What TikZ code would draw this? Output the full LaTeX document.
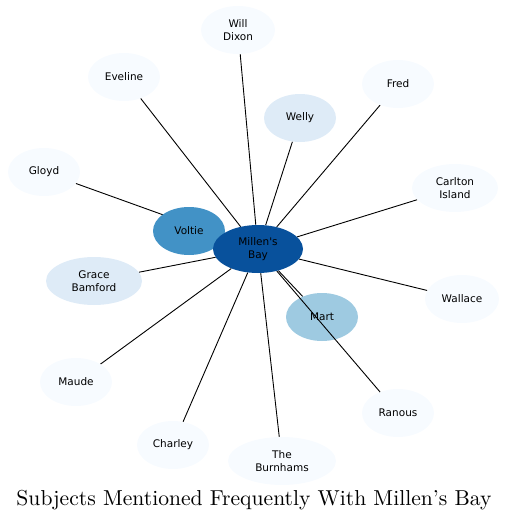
\documentclass[tikz,border=0pt]{standalone}
\usepackage{fontspec}
\newfontfamily\lab{DejaVu Sans}
\usepackage{graphicx}
\definecolor{pale}{HTML}{F7FBFF}
\definecolor{light}{HTML}{DEEBF7}
\definecolor{midb}{HTML}{9ECAE1}
\definecolor{volt}{HTML}{4292C6}
\definecolor{dark}{HTML}{08519C}
\pgfdeclarelayer{edges}
\pgfdeclarelayer{mid}
\pgfdeclarelayer{top}
\pgfsetlayers{edges,main,mid,top}
\tikzset{
  nd/.style={ellipse, minimum height=48pt, inner sep=0pt, align=center,
    font=\lab\fontsize{10.5}{12.5}\selectfont, fill=pale},
  ed/.style={draw=black, line width=0.9pt}
}
\usetikzlibrary{shapes.geometric}
\begin{document}
\begin{tikzpicture}[x=1pt,y=-1pt]
\useasboundingbox (0,0) rectangle (508,522);
\node[nd, minimum width=74pt] (will) at (238,30) {Will\\Dixon};
\node[nd, minimum width=72pt] (eve) at (124,77) {Eveline};
\node[nd, minimum width=72pt] (fred) at (398,84) {Fred};
\node[nd, minimum width=72pt, fill=light] (welly) at (300,118) {Welly};
\node[nd, minimum width=72pt] (gloyd) at (44,172) {Gloyd};
\node[nd, minimum width=86pt] (carl) at (455,188) {Carlton\\Island};
\node[nd, minimum width=72pt, fill=volt] (volt) at (189,231) {Voltie};
\node[nd, minimum width=96pt, fill=light] (grace) at (94,281) {Grace\\Bamford};
\node[nd, minimum width=74pt] (wall) at (462,299) {Wallace};
\node[nd, minimum width=72pt, fill=midb] (mart) at (322,317) {Mart};
\node[nd, minimum width=72pt] (maude) at (76,382) {Maude};
\node[nd, minimum width=72pt] (ran) at (398,413) {Ranous};
\node[nd, minimum width=72pt] (charl) at (173,445) {Charley};
\node[nd, minimum width=108pt] (burn) at (282,461) {The\\Burnhams};
\begin{pgfonlayer}{top}
\node[nd, minimum width=90pt, fill=dark] (bay) at (258,249) {Millen\char39 s\\Bay};
\end{pgfonlayer}
\begin{pgfonlayer}{edges}
\foreach \t in {will,eve,fred,welly,gloyd,carl,volt,grace,wall,mart,maude,charl,burn}
  \draw[ed] (bay) -- (\t);
\end{pgfonlayer}
\begin{pgfonlayer}{mid}
\draw[ed] (bay) -- (ran);
\end{pgfonlayer}
\node (title) at (254,500) {\resizebox{475pt}{!}{Subjects Mentioned Frequently With Millen\char39 s Bay}};
\end{tikzpicture}
\end{document}
